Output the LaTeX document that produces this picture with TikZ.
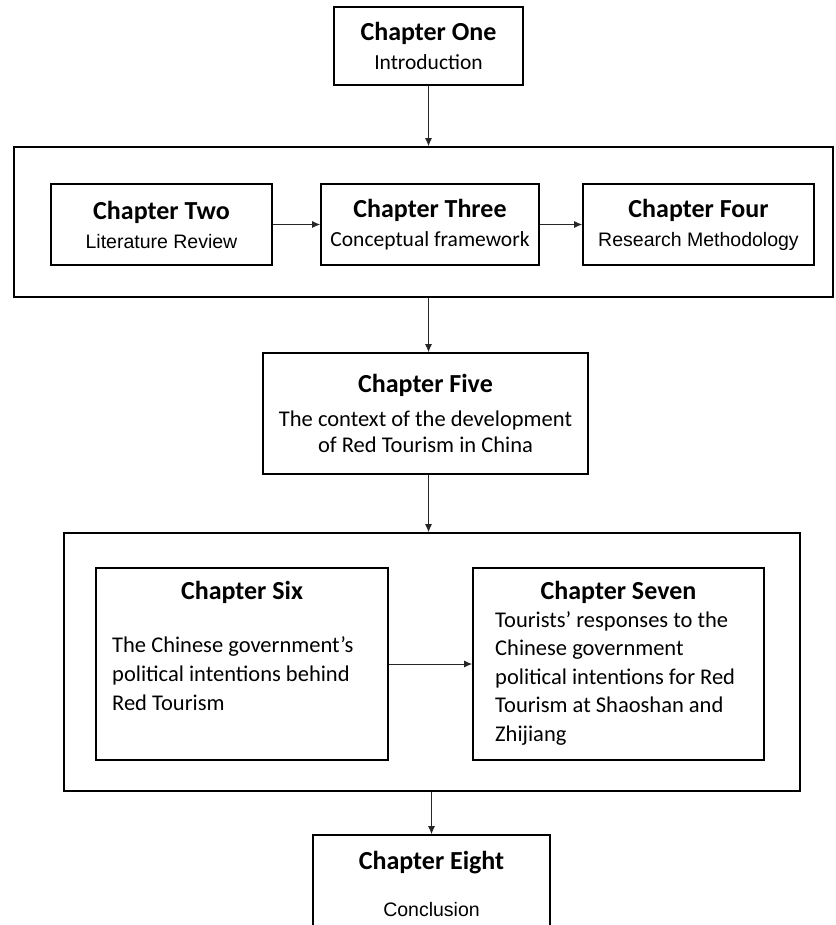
\documentclass[tikz,border=0pt]{standalone}
\usepackage{fontspec}
\setmainfont{Carlito}
\newfontfamily\arialfont{Liberation Sans}
\usepackage{tikz}
\usetikzlibrary{positioning,shapes,arrows,arrows.meta,calc}

\tikzset{
  chapbox/.style={draw, rectangle, line width=1.6pt, align=center, inner sep=0pt,
    font=\fontsize{21.5}{29}\selectfont},
  groupbox/.style={draw, rectangle, line width=1.6pt, inner sep=0pt},
  flow/.style={->, line width=1pt, black!85}
}
\newcommand{\chaptitle}[1]{{\fontsize{26}{29}\selectfont\bfseries #1}}
\newcommand{\chapsub}[1]{{\arialfont\fontsize{19.5}{29}\selectfont #1}}

\begin{document}
\begin{tikzpicture}[x=1pt,y=-1pt,>={Latex[length=8pt,width=7pt]}]
    \useasboundingbox (0,0) rectangle (835,925);
    \clip (0,0) rectangle (835,925);

    \node[chapbox,minimum width=189pt,minimum height=78pt] (one) at (428.5,46) {\chaptitle{Chapter One}\\Introduction};

    \node[groupbox,minimum width=819pt,minimum height=150pt] (grpA) at (423.5,222) {};
    \node[chapbox,minimum width=221pt,minimum height=81pt] (two) at (161.5,224.5) {\chaptitle{Chapter Two}\\\chapsub{Literature Review}};
    \node[chapbox,minimum width=218pt,minimum height=81pt] (three) at (430,224.5) {\chaptitle{Chapter Three}\\Conceptual framework};
    \node[chapbox,minimum width=231pt,minimum height=81pt] (four) at (698.5,224.5) {\chaptitle{Chapter Four}\\\chapsub{Research Methodology}};

    \node[chapbox,minimum width=325pt,minimum height=121pt,font=\fontsize{22.5}{26}\selectfont] (five) at (425.5,413.5)
        {\chaptitle{Chapter Five}\\[8pt]The context of the development\\of Red Tourism in China};

    \node[groupbox,minimum width=736pt,minimum height=258pt] (grpB) at (432,662) {};
    \node[groupbox,minimum width=292pt,minimum height=192pt] (six) at (242,664) {};
    \node[groupbox,minimum width=291pt,minimum height=192pt] (seven) at (618.5,664) {};
    \node (sixT) at (242,592) {\chaptitle{Chapter Six}};
    \node[anchor=west,align=left,inner sep=0pt,font=\fontsize{22.5}{29}\selectfont] (sixB) at (112,674)
        {The Chinese government's\\political intentions behind\\Red Tourism};
    \node (sevenT) at (618.5,592) {\chaptitle{Chapter Seven}};
    \node[anchor=west,align=left,inner sep=0pt,font=\fontsize{22.5}{28.5}\selectfont] (sevenB) at (495,678)
        {Tourists' responses to the\\Chinese government\\political intentions for Red\\Tourism at Shaoshan and\\Zhijiang};

    % box runs past the lower edge, as in the scan
    \node[chapbox,minimum width=237pt,minimum height=97pt] (eight) at (431.5,883.5)
        {\chaptitle{Chapter Eight}\\[18pt]\chapsub{Conclusion}};

    \draw[flow] (one) -- (one |- grpA.north);
    \draw[flow] (two) -- (three);
    \draw[flow] (three) -- (four);
    \draw[flow] (grpA.south -| one.south) -- (five.north -| one.south);
    \draw[flow] (five.south -| one.south) -- (grpB.north -| one.south);
    \draw[flow] (six) -- (seven);
    \draw[flow] (grpB.south -| eight.north) -- (eight.north);
\end{tikzpicture}
\end{document}
